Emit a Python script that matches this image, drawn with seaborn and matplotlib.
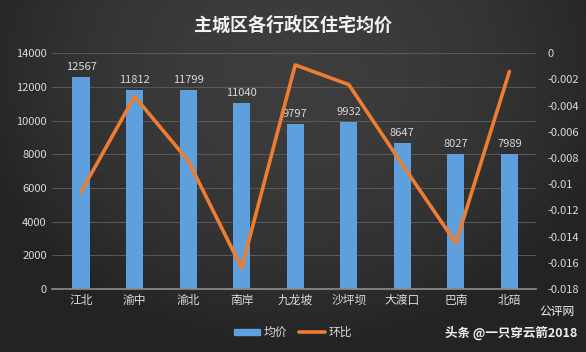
import numpy as np
import pandas as pd
import matplotlib.pyplot as plt
import seaborn as sns
from matplotlib.lines import Line2D
from matplotlib.patches import Patch

sns.set_theme(style="dark")
plt.rcParams['font.family'] = ['Noto Sans CJK SC', 'DejaVu Sans']
plt.rcParams['axes.unicode_minus'] = False

# data
districts = ['江北', '渝中', '渝北', '南岸', '九龙坡', '沙坪坝', '大渡口', '巴南', '北碚']
avg_price = [12567, 11812, 11799, 11040, 9797, 9932, 8647, 8027, 7989]
mom_change = [-0.0106, -0.0033, -0.0082, -0.0164, -0.0009, -0.0024, -0.0085, -0.0145, -0.0014]
left_ticks = [0, 2000, 4000, 6000, 8000, 10000, 12000, 14000]
right_ticks = [0, -0.002, -0.004, -0.006, -0.008, -0.01, -0.012, -0.014, -0.016, -0.018]
right_labels = ['0', '-0.002', '-0.004', '-0.006', '-0.008', '-0.01', '-0.012', '-0.014', '-0.016', '-0.018']

df = pd.DataFrame({'区': districts, '均价': avg_price, '环比': mom_change})

bar_color = '#5ea0de'
line_color = '#ed7d31'
text_color = '#d9d9d9'

fig = plt.figure(figsize=(5.86, 3.52), dpi=100)

# dark vignette background
bg = fig.add_axes([0, 0, 1, 1], zorder=-10)
xx, yy = np.meshgrid(np.linspace(-1, 1, 300), np.linspace(-1, 1, 200))
shade = 0.24 - 0.10 * np.clip(0.8 * xx ** 2 + 0.4 * (yy + 0.6) ** 2, 0, 1)
bg.imshow(np.dstack([shade] * 3), aspect='auto', extent=[0, 1, 0, 1])
bg.axis('off')

ax = fig.add_axes([0.088, 0.179, 0.827, 0.67])
ax.set_facecolor('none')
sns.barplot(data=df, x='区', y='均价', color=bar_color, width=0.32,
            saturation=1, linewidth=0, edgecolor='none', ax=ax, zorder=2)
ax.set_ylim(0, 14000)
ax.set_yticks(left_ticks)
ax.set_xlim(-0.55, 8.5)
ax.grid(axis='y', color='#5a5a5a', linewidth=0.7, zorder=0)
ax.grid(axis='x', visible=False)
for s in ['top', 'right', 'left']:
    ax.spines[s].set_visible(False)
ax.spines['bottom'].set_color('#8a8a8a')
ax.tick_params(axis='both', colors=text_color, labelsize=8, length=0)
ax.set_xlabel('')
ax.set_ylabel('')
for lbl in ax.get_xticklabels():
    lbl.set_fontsize(8.5)
for i, v in enumerate(avg_price):
    ax.text(i, v + 300, str(v), ha='center', va='bottom', color=text_color, fontsize=8)

ax2 = ax.twinx()
sns.lineplot(data=df, x='区', y='环比', color=line_color, linewidth=2.6,
             ax=ax2, sort=False, zorder=3)
ax2.set_ylim(-0.018, 0)
ax2.set_yticks(right_ticks)
ax2.set_yticklabels(right_labels)
ax2.set_ylabel('')
ax2.grid(False)
for s in ['top', 'right', 'left', 'bottom']:
    ax2.spines[s].set_visible(False)
ax2.tick_params(axis='y', colors=text_color, labelsize=8, length=0, pad=8)

fig.suptitle('主城区各行政区住宅均价', color='#f2f2f2', fontsize=13,
             fontweight='bold', y=0.955)

handles = [Patch(color=bar_color, label='均价'),
           Line2D([0], [0], color=line_color, linewidth=2.6, label='环比')]
fig.legend(handles=handles, loc='center', bbox_to_anchor=(0.5, 0.055), ncol=2,
           frameon=False, fontsize=8.5, labelcolor=text_color,
           handlelength=2.2, handleheight=0.5, handletextpad=0.3, columnspacing=1.0)

fig.text(0.985, 0.055, '头条 @一只穿云箭2018', color='#f0f0f0', fontsize=9,
         fontweight='bold', ha='right', va='center')
fig.text(0.98, 0.115, '公评网', color='#f0f0f0', fontsize=8.5,
         ha='right', va='center')

fig.savefig('out.png', dpi=100)
